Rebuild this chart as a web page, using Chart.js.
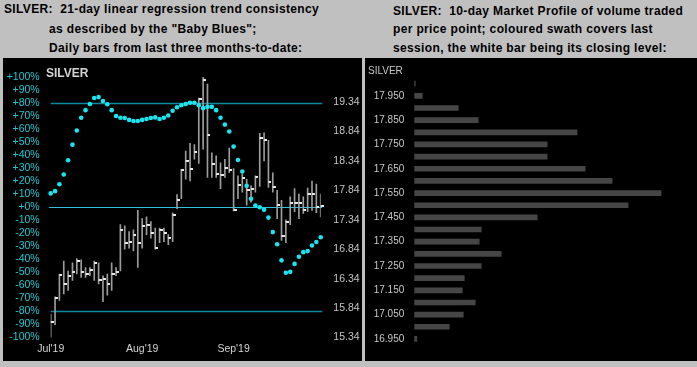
<!DOCTYPE html>
<html>
<head>
<meta charset="utf-8">
<script src="https://cdn.jsdelivr.net/npm/chart.js@4.4.1/dist/chart.umd.min.js"></script>
<style>
  body { margin:0; width:697px; height:367px; overflow:hidden; position:relative; background:#c0c0c0; font-family:"Liberation Sans", Arial, sans-serif; }
  .hd { position:absolute; font-weight:bold; font-size:12px; line-height:12px; letter-spacing:0.35px; color:#000; white-space:nowrap; }
  .panel { position:absolute; top:58px; height:303px; background:#000; }
  .tag { position:absolute; white-space:nowrap; }
</style>
</head>
<body>
<div class="hd" style="left:4px;top:2.5px">SILVER:&nbsp; 21-day linear regression trend consistency</div>
<div class="hd" style="left:49px;top:23px">as described by the "Baby Blues";</div>
<div class="hd" style="left:49px;top:42px">Daily bars from last three months-to-date:</div>
<div class="hd" style="left:393px;top:4.8px">SILVER:&nbsp; 10-day Market Profile of volume traded</div>
<div class="hd" style="left:393px;top:23px">per price point; coloured swath covers last</div>
<div class="hd" style="left:393px;top:42px">session, the white bar being its closing level:</div>

<div class="panel" style="left:3px;width:359px"><canvas id="trendChart" width="359" height="303"></canvas></div>
<div class="panel" style="left:365px;width:332px"><canvas id="profileChart" width="332" height="303"></canvas></div>
<div class="tag" style="left:46px;top:66.5px;font-size:12px;line-height:12px;font-weight:bold;color:#d4d4d4">SILVER</div>
<div class="tag" style="left:368px;top:65.5px;font-size:10px;line-height:10px;color:#c8c8c8">SILVER</div>

<script>
// --- left chart: daily bars + "Baby Blues" ---
const monthLabels = ["Jul'19", "Aug'19", "Sep'19"];
const monthStartIdx = [0, 21, 42];

const babyBlues = [10.6, 12.3, 17.6, 25.1, 36.0, 48.0, 58.9, 68.7, 74.5, 79.2,
  83.8, 84.5, 81.5, 79.0, 74.5, 70.0, 68.7, 68.4, 67.0, 66.2,
  66.2, 67.0, 67.7, 68.4, 68.9, 67.7, 68.7, 70.4, 74.0, 76.7,
  78.2, 79.2, 80.2, 80.2, 78.2, 76.0, 77.0, 77.0, 74.5, 68.7,
  63.4, 58.1, 46.5, 36.2, 27.4, 16.4, 6.5, 1.3, 0.0, -2.0,
  -8.0, -19.1, -28.4, -40.8, -50.3, -49.6, -43.5, -38.0, -34.5, -33.7,
  -29.4, -26.7, -23.1];

const highs = [15.74, 16.03, 16.42, 16.64, 16.47, 16.61, 16.68, 16.66, 16.53, 16.53,
  16.64, 16.61, 16.39, 16.42, 16.61, 16.53, 17.26, 17.24, 17.14, 17.17,
  17.50, 17.36, 17.39, 17.31, 17.20, 17.20, 17.20, 17.09, 17.46, 17.77,
  18.20, 18.51, 18.64, 18.62, 19.41, 19.77, 19.65, 18.48, 18.43, 18.31,
  18.37, 18.56, 18.21, 18.09, 18.12, 18.03, 17.92, 18.09, 18.81, 18.82,
  18.69, 18.14, 17.84, 17.67, 17.34, 17.73, 17.87, 17.78, 17.73, 17.88,
  18.00, 17.95, 17.78];
const lows = [15.33, 15.56, 15.97, 16.08, 16.14, 16.31, 16.42, 16.36, 16.36, 16.39,
  16.31, 16.25, 15.95, 16.06, 16.14, 16.39, 16.47, 16.84, 16.86, 16.81,
  16.53, 16.86, 17.09, 17.03, 16.84, 16.95, 16.97, 16.92, 16.97, 17.53,
  17.70, 18.03, 18.00, 18.37, 18.30, 18.54, 18.06, 18.06, 18.06, 17.87,
  18.06, 18.14, 17.49, 17.70, 17.81, 17.59, 17.64, 17.81, 17.91, 18.34,
  17.89, 17.81, 17.36, 16.99, 16.95, 17.26, 17.48, 17.36, 17.45, 17.48,
  17.50, 17.46, 17.39];
const closes = [15.60, 16.01, 16.40, 16.25, 16.39, 16.45, 16.64, 16.46, 16.42, 16.49,
  16.61, 16.31, 16.34, 16.25, 16.42, 16.46, 17.17, 16.95, 16.96, 17.09,
  16.95, 17.23, 17.25, 17.11, 16.86, 17.17, 17.11, 17.03, 17.42, 17.67,
  18.19, 18.34, 18.20, 18.49, 19.40, 19.72, 18.79, 18.29, 18.12, 18.10,
  18.22, 18.19, 17.51, 17.93, 18.05, 17.85, 17.87, 18.07, 18.73, 18.69,
  17.99, 17.89, 17.60, 17.06, 17.31, 17.63, 17.63, 17.62, 17.50, 17.78,
  17.78, 17.56, 17.58];

const priceTicks = [19.34, 18.84, 18.34, 17.84, 17.34, 16.84, 16.34, 15.84, 15.34];
const trendLevels = [80, 0, -80];

// --- right chart: 10-day market profile ---
const profilePrices = ['18.000', '17.950', '17.900', '17.850', '17.800', '17.750', '17.700', '17.650',
  '17.600', '17.550', '17.500', '17.450', '17.400', '17.350', '17.300', '17.250',
  '17.200', '17.150', '17.100', '17.050', '17.000', '16.950'];
const profileVolume = [1, 8, 44, 64, 163, 133, 133, 171, 198, 247, 214, 123, 67, 65, 87, 67, 50, 48, 61, 49, 35, 2.5];

const days = babyBlues.map((v, i) => i);
const font = 'Liberation Sans';

// white close tick drawn to the right of each bar
const closeMark = document.createElement('canvas');
closeMark.width = 6;
closeMark.height = 2;
const cm = closeMark.getContext('2d');
cm.fillStyle = '#e8e8e8';
cm.fillRect(3, 0, 3, 2);

const levelLines = {
  id: 'levelLines',
  beforeDatasetsDraw(chart) {
    const { ctx, chartArea, scales } = chart;
    ctx.save();
    trendLevels.forEach(function(lv) {
      const y = Math.round(scales.y.getPixelForValue(lv)) + 0.5;
      ctx.beginPath();
      if (lv === 0) {
        ctx.strokeStyle = '#2cc4dc';
        ctx.lineWidth = 1;
        ctx.moveTo(chartArea.left - 1.5, y);
      } else {
        ctx.strokeStyle = '#0a8aa0';
        ctx.lineWidth = 1.5;
        ctx.moveTo(chartArea.left, y);
      }
      ctx.lineTo(chartArea.right + 1.5, y);
      ctx.stroke();
    });
    ctx.restore();
  }
};

new Chart(document.getElementById('trendChart'), {
  type: 'bar',
  data: {
    labels: days,
    datasets: [{
      type: 'line',
      data: babyBlues,
      yAxisID: 'y',
      showLine: false,
      pointRadius: 2.3,
      pointBackgroundColor: '#19e6f0',
      pointBorderWidth: 0,
      clip: false
    }, {
      type: 'line',
      data: closes,
      yAxisID: 'y1',
      showLine: false,
      pointStyle: closeMark,
      clip: false
    }, {
      type: 'bar',
      data: highs.map((h, i) => [lows[i], h]),
      yAxisID: 'y1',
      backgroundColor: '#9c9c9c',
      barThickness: 1
    }]
  },
  options: {
    animation: false,
    responsive: false,
    layout: { padding: { top: 14.5, left: 0, right: 0, bottom: 0 } },
    plugins: { legend: { display: false }, tooltip: { enabled: false } },
    scales: {
      x: {
        type: 'category',
        offset: false,
        grid: { display: false, drawTicks: false },
        border: { display: false },
        afterFit: function(s) { s.height = 23.5; },
        ticks: {
          autoSkip: false,
          maxRotation: 0,
          padding: 5,
          color: '#d4d4d4',
          font: { family: font, size: 10.5 },
          callback: function(value, index) {
            const k = monthStartIdx.indexOf(index);
            return k >= 0 ? monthLabels[k] : '';
          }
        }
      },
      y: {
        position: 'left',
        min: -100,
        max: 100,
        grid: { display: false, drawTicks: false },
        border: { display: false },
        afterFit: function(s) { s.width = 47.7; },
        ticks: {
          stepSize: 10,
          autoSkip: false,
          padding: 11,
          color: '#1ec8d2',
          font: { family: font, size: 10.5 },
          callback: function(v) { return (v >= 0 ? '+' : '') + v + '%'; }
        }
      },
      y1: {
        position: 'right',
        min: 15.34,
        max: 19.77,
        grid: { display: false, drawTicks: false },
        border: { display: false },
        afterFit: function(s) { s.width = 41.3; },
        afterBuildTicks: function(s) { s.ticks = priceTicks.map(v => ({ value: v })); },
        ticks: {
          autoSkip: false,
          padding: 12.6,
          color: '#c4c4c4',
          font: { family: font, size: 10.5 },
          callback: function(v) { return v.toFixed(2); }
        }
      }
    }
  },
  plugins: [levelLines]
});

new Chart(document.getElementById('profileChart'), {
  type: 'bar',
  data: {
    labels: profilePrices,
    datasets: [{
      data: profileVolume,
      backgroundColor: '#464646',
      barThickness: 5
    }]
  },
  options: {
    indexAxis: 'y',
    animation: false,
    responsive: false,
    layout: { padding: { top: 19.6, right: 7, bottom: 1, left: 0 } },
    plugins: { legend: { display: false }, tooltip: { enabled: false } },
    scales: {
      x: { display: false, min: 0, max: 276 },
      y: {
        grid: { display: false, drawTicks: false },
        border: { display: false },
        afterFit: function(s) { s.width = 49.3; },
        ticks: {
          autoSkip: false,
          padding: 10,
          color: '#c8c8c8',
          font: { family: font, size: 10 },
          callback: function(value, index) { return index % 2 === 1 ? profilePrices[index] : ''; }
        }
      }
    }
  }
});
</script>
</body>
</html>
